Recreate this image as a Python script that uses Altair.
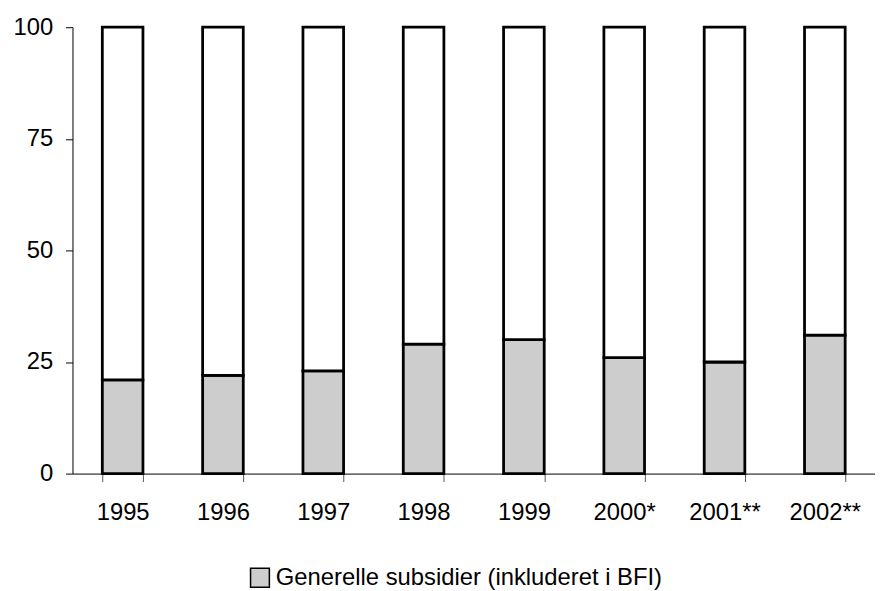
import altair as alt
import pandas as pd

years = ["1995", "1996", "1997", "1998", "1999", "2000*", "2001**", "2002**"]
generelle = [21, 22, 23, 29, 30, 26, 25, 31]
oevrige = [79, 78, 77, 71, 70, 74, 75, 69]
series_names = ["Generelle subsidier (inkluderet i BFI)", "Øvrige"]
y_ticks = [0, 25, 50, 75, 100]

rows = []
for yr, g, o in zip(years, generelle, oevrige):
    rows.append({"year": yr, "series": series_names[0], "value": g, "ord": 0})
    rows.append({"year": yr, "series": series_names[1], "value": o, "ord": 1})
df = pd.DataFrame(rows)

FONT = "Liberation Sans"

chart = alt.Chart(df).mark_bar(stroke="black", strokeWidth=2.8).encode(
    x=alt.X(
        "year:N", sort=years, title=None,
        scale=alt.Scale(paddingInner=0.595, paddingOuter=0.2975),
        axis=alt.Axis(labelAngle=0, tickBand="extent", labelFont=FONT, labelFontSize=24,
                      labelColor="black", labelPadding=19, tickSize=8, tickColor="#555",
                      domainColor="black", domainWidth=1, tickWidth=1),
    ),
    y=alt.Y(
        "value:Q", stack="zero", title=None,
        scale=alt.Scale(domain=[0, 100], nice=False),
        axis=alt.Axis(values=y_ticks, grid=False, labelFont=FONT, labelFontSize=24,
                      labelColor="black", labelPadding=13, tickSize=7, tickColor="black",
                      domainColor="black", domainWidth=1, tickWidth=1),
    ),
    fill=alt.Fill(
        "series:N",
        scale=alt.Scale(domain=series_names, range=["#cdcdcd", "white"]),
        legend=alt.Legend(values=[series_names[0]], title=None, orient="none",
                          legendX=177, legendY=543, symbolType="square", symbolSize=360,
                          symbolStrokeColor="black", symbolStrokeWidth=1.5,
                          labelFont=FONT, labelFontSize=24, labelColor="black",
                          labelLimit=0, labelOffset=4, padding=0),
    ),
    order=alt.Order("ord:Q"),
).properties(
    width=809, height=450,
    autosize=alt.AutoSizeParams(type="none"),
    padding={"left": 65, "top": 17, "right": 0, "bottom": 116},
).configure_view(stroke=None)

chart.save("out.html", embed_options={"renderer": "svg", "actions": False})
